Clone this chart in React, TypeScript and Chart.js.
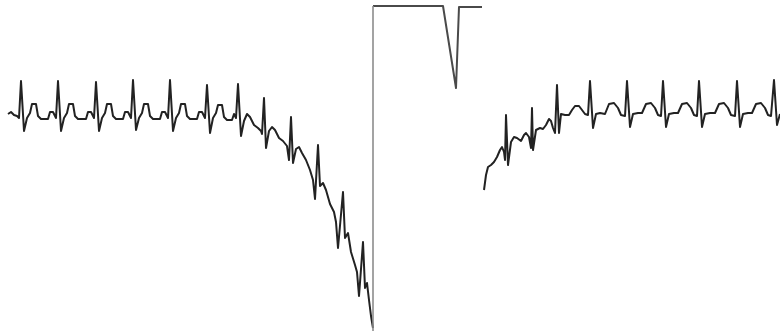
import React, { useEffect, useRef } from "react";
import { Chart, registerables } from "chart.js";

Chart.register(...registerables);

// Time (sample index) and amplitude (arbitrary units, baseline = 0)
const leftTime = [8, 11, 14, 17, 19, 21, 24, 27, 30, 32, 36, 38, 41, 48, 50, 53, 55, 56, 58, 61, 64, 67, 69, 73, 75, 78, 86, 88, 91, 93, 94, 96, 99, 102, 105, 107, 111, 113, 116, 123, 125, 128, 130, 131, 133, 136, 139, 142, 144, 148, 150, 153, 160, 162, 165, 167, 168, 170, 173, 176, 179, 181, 185, 187, 190, 197, 199, 202, 204, 205, 207, 210, 213, 216, 218, 222, 224, 227, 232, 234, 236, 238, 241, 244, 247, 250, 254, 258, 261, 262, 264, 266, 269, 272, 275, 279, 283, 287, 289, 291, 293, 296, 299, 302, 306, 310, 313, 315, 318, 320, 323, 326, 330, 334, 336, 338, 343, 345, 348, 351, 355, 357, 359, 363, 365, 367, 369, 371, 373];
const leftAmp = [-1, 1, -2, -3, -5, 32, -18, -5, 0, 9, 9, -3, -6, -6, 1, 1, -3, -5, 32, -18, -5, 0, 9, 9, -3, -6, -6, 1, 1, -3, -5, 31, -18, -5, 0, 9, 9, -3, -6, -6, 1, 1, -3, -5, 33, -17, -5, 0, 9, 9, -3, -6, -6, 1, 1, -3, -5, 33, -18, -5, 0, 9, 9, -3, -6, -6, 1, 1, -3, -5, 28, -20, -5, 0, 8, 8, -4, -7, -7, -1, -5, 29, -23, -8, -1, -4, -12, -15, -18, -21, 15, -35, -18, -14, -17, -25, -28, -33, -47, -4, -50, -36, -34, -40, -47, -57, -67, -86, -32, -73, -70, -77, -91, -99, -109, -135, -79, -125, -120, -139, -152, -159, -183, -129, -175, -170, -187, -203, -215];

// Calibration pulse: vertical stroke, plateau, notch
const calRiseTime = [373, 373];
const calRiseAmp = [-218, 107];
const calTopTime = [373, 443, 456, 459, 482];
const calTopAmp = [107, 107, 25, 106, 106];

const rightTime = [484, 486, 488, 491, 494, 497, 500, 502, 504, 505, 506, 508, 511, 514, 517, 521, 524, 526, 529, 531, 532, 533, 536, 540, 543, 546, 549, 551, 553, 555, 557, 559, 561, 565, 569, 572, 575, 579, 582, 585, 588, 590, 593, 596, 600, 605, 609, 614, 618, 621, 625, 627, 630, 633, 638, 642, 646, 651, 655, 658, 661, 663, 666, 669, 674, 678, 682, 687, 691, 694, 697, 699, 702, 705, 710, 715, 719, 724, 728, 731, 735, 737, 740, 743, 748, 752, 756, 761, 765, 768, 771, 774, 777, 780];
const rightAmp = [-77, -62, -54, -52, -49, -44, -37, -34, -39, -47, -2, -52, -29, -24, -25, -28, -22, -20, -24, -35, 5, -37, -17, -15, -16, -12, -6, -8, -15, -20, 28, -20, -1, -2, -2, 3, 7, 7, 3, -1, -2, 32, -15, -1, 0, -1, 9, 10, 5, -2, -3, 32, -14, -1, 0, 0, 9, 10, 5, -2, -3, 32, -14, -1, 0, 0, 9, 10, 5, -2, -3, 32, -14, -1, 0, 0, 9, 10, 5, -2, -3, 32, -14, -1, 0, 0, 9, 10, 5, -2, -3, 33, -12, -1];

const toPts = (t: number[], a: number[]) => t.map((x, i) => ({ x, y: a[i] }));

const line = (t: number[], a: number[], color: string, width: number) => ({
  data: toPts(t, a),
  borderColor: color,
  borderWidth: width,
  pointRadius: 0,
  tension: 0,
  borderJoinStyle: "round" as const,
});

export default function App() {
  const ref = useRef<HTMLCanvasElement | null>(null);
  useEffect(() => {
    if (!ref.current) return;
    const chart = new Chart(ref.current, {
      type: "line",
      data: {
        datasets: [
          line(calRiseTime, calRiseAmp, "#8c8c8c", 1.6),
          line(calTopTime, calTopAmp, "#4a4a4a", 2),
          line(leftTime, leftAmp, "#222222", 2),
          line(rightTime, rightAmp, "#222222", 2),
        ],
      },
      options: {
        animation: false,
        responsive: false,
        devicePixelRatio: 1,
        layout: { padding: 0 },
        plugins: { legend: { display: false }, tooltip: { enabled: false } },
        scales: {
          x: { type: "linear", min: 0, max: 780, display: false },
          y: { type: "linear", min: -218, max: 113, display: false },
        },
      },
    });
    return () => chart.destroy();
  }, []);
  return (
    <div style={{ position: "fixed", left: 0, top: 0, width: 780, height: 331, background: "#fff" }}>
      <canvas ref={ref} width={780} height={331} style={{ display: "block" }} />
    </div>
  );
}
